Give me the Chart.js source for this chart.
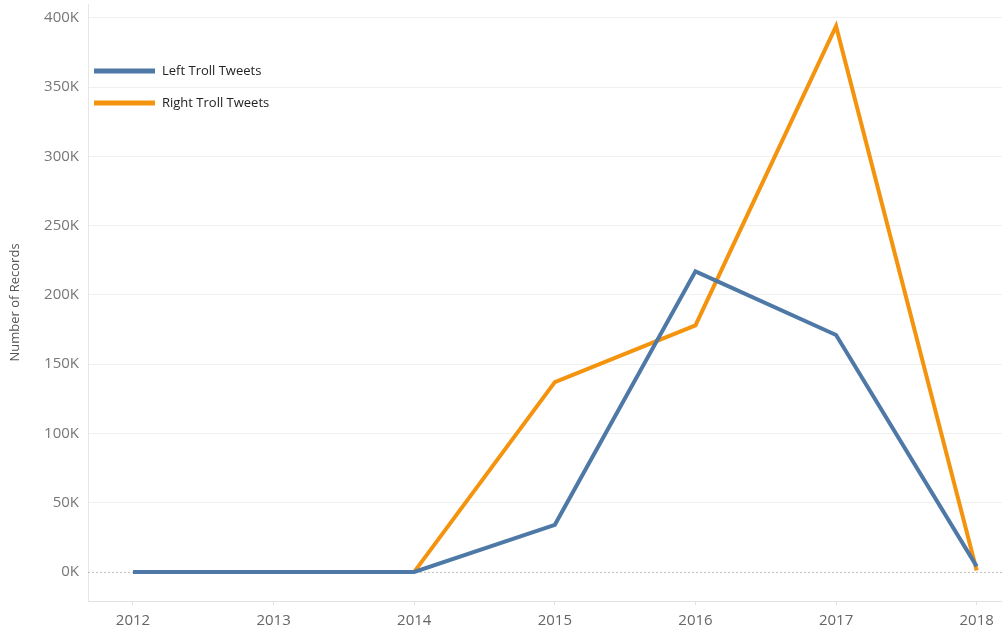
<!DOCTYPE html>
<html lang="en">
<head>
    <meta charset="UTF-8">
    <title>Troll Tweets per Year</title>
    <script src="https://cdn.jsdelivr.net/npm/chart.js"></script>
    <style>
        html, body { margin: 0; padding: 0; background: #fff; }
        #wrap { width: 1002px; height: 634px; }
    </style>
</head>
<body>
    <div id="wrap"><canvas id="trollChart"></canvas></div>
    <script>
        const years = [2012, 2013, 2014, 2015, 2016, 2017, 2018];
        const leftTroll = [0, 0, 0, 34000, 217000, 171000, 4000];
        const rightTroll = [null, null, 0, 137000, 178000, 394000, 1000];
        const yTicks = [0, 50000, 100000, 150000, 200000, 250000, 300000, 350000, 400000];

        const blue = '#4e79a7';
        const orange = '#f4940e';

        // dotted zero line + legend inside the plot, like the original
        const extras = {
            id: 'extras',
            beforeDatasetsDraw(chart) {
                const ctx = chart.ctx;
                const area = chart.chartArea;
                const y0 = chart.scales.y.getPixelForValue(0);
                ctx.save();
                ctx.strokeStyle = '#bdbdbd';
                ctx.lineWidth = 1;
                ctx.setLineDash([2, 2]);
                ctx.beginPath();
                ctx.moveTo(area.left, y0 + 0.5);
                ctx.lineTo(area.right, y0 + 0.5);
                ctx.stroke();
                ctx.restore();
            },
            afterDraw(chart) {
                const ctx = chart.ctx;
                const area = chart.chartArea;
                ctx.save();
                ctx.font = '13px "Open Sans", sans-serif';
                ctx.textBaseline = 'middle';
                chart.data.datasets.forEach((ds, i) => {
                    const y = area.top + 67 + i * 32;
                    ctx.strokeStyle = ds.borderColor;
                    ctx.lineWidth = 5;
                    ctx.beginPath();
                    ctx.moveTo(area.left + 6, y);
                    ctx.lineTo(area.left + 67, y);
                    ctx.stroke();
                    ctx.fillStyle = '#222';
                    ctx.fillText(ds.label, area.left + 74, y);
                });
                ctx.restore();
            }
        };

        new Chart(document.getElementById('trollChart'), {
            type: 'line',
            data: {
                datasets: [{
                    label: 'Left Troll Tweets',
                    data: years.map((yr, i) => ({ x: yr, y: leftTroll[i] })),
                    borderColor: blue,
                    borderWidth: 4,
                    pointRadius: 0,
                    order: 0
                }, {
                    label: 'Right Troll Tweets',
                    data: years.map((yr, i) => ({ x: yr, y: rightTroll[i] })),
                    borderColor: orange,
                    borderWidth: 4,
                    pointRadius: 0,
                    order: 1
                }]
            },
            options: {
                responsive: true,
                maintainAspectRatio: false,
                animation: false,
                layout: { padding: { top: 4, right: 0, left: 0, bottom: 0 } },
                plugins: {
                    legend: { display: false },
                    tooltip: { enabled: false }
                },
                scales: {
                    x: {
                        type: 'linear',
                        min: 2011.68,
                        max: 2018.18,
                        afterBuildTicks: (scale) => {
                            scale.ticks = years.map(v => ({ value: v }));
                        },
                        afterFit: (scale) => {
                            scale.height = 33;
                            scale.paddingRight = 0;
                        },
                        grid: {
                            drawOnChartArea: false,
                            tickLength: 4,
                            color: '#e2e2e2'
                        },
                        border: { color: '#e2e2e2' },
                        ticks: {
                            callback: (v) => String(v),
                            color: '#666',
                            font: { family: '"Open Sans", sans-serif', size: 15 },
                            padding: 7,
                            maxRotation: 0
                        }
                    },
                    y: {
                        min: -21000,
                        max: 410000,
                        afterBuildTicks: (scale) => {
                            scale.ticks = yTicks.map(v => ({ value: v }));
                        },
                        afterFit: (scale) => {
                            scale.width = 88;
                            scale.paddingTop = 0;
                            scale.paddingBottom = 0;
                        },
                        grid: {
                            color: (c) => (c.tick && c.tick.value === 0) ? 'rgba(0,0,0,0)' : '#f0f0f0',
                            drawTicks: false
                        },
                        border: { color: '#e6e6e6' },
                        title: {
                            display: true,
                            text: 'Number of Records',
                            color: '#555',
                            font: { family: '"Open Sans", sans-serif', size: 13 },
                            padding: { top: 7, bottom: 0 }
                        },
                        ticks: {
                            callback: (v) => (v / 1000) + 'K',
                            color: '#777',
                            font: { family: '"Open Sans", sans-serif', size: 15 },
                            padding: 9
                        }
                    }
                }
            },
            plugins: [extras]
        });
    </script>
</body>
</html>
